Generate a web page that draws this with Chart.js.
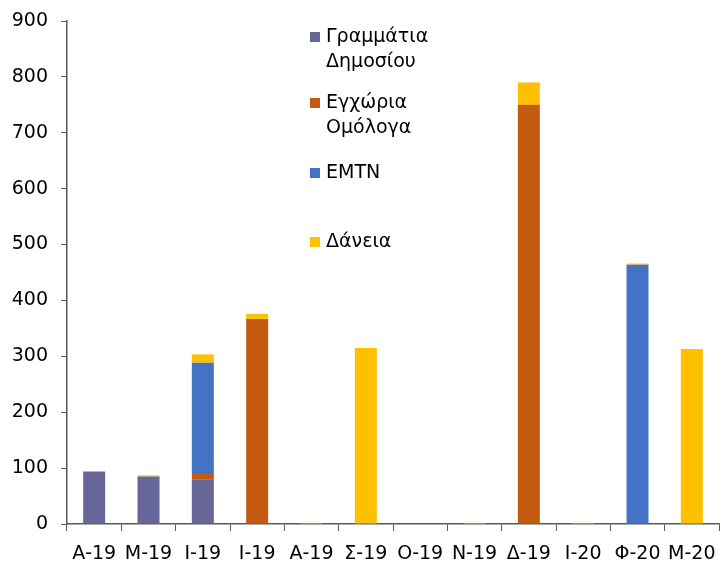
<!DOCTYPE html>
<html>
<head>
<meta charset="utf-8">
<script src="https://cdn.jsdelivr.net/npm/chart.js@4"></script>
<style>
html,body{margin:0;padding:0;background:#fff;}
#wrap{width:721px;height:563px;position:relative;}
</style>
</head>
<body>
<div id="wrap"><canvas id="c" width="721" height="563"></canvas></div>
<script>
const categories = ['Α-19','Μ-19','Ι-19','Ι-19','Α-19','Σ-19','Ο-19','Ν-19','Δ-19','Ι-20','Φ-20','Μ-20'];
const grammatia = [94, 85, 80, 0, 0, 0, 0, 0, 0, 0, 0, 0];
const egxoria   = [0, 0, 9.5, 367, 0, 0, 0, 0, 750, 0, 0, 0];
const emtn      = [0, 0, 199, 0, 0, 0, 0, 0, 0, 0, 464, 0];
const daneia    = [0, 2, 15, 9, 2, 315, 0, 2, 40, 2, 2, 313];
const yTicks = [0,100,200,300,400,500,600,700,800,900];
const legendLabels = [['Γραμμάτια','Δημοσίου'],['Εγχώρια','Ομόλογα'],['EMTN'],['Δάνεια']];
const colors = ['#666699','#C55A11','#4472C4','#FFC000'];

const FONT = 'Verdana, "DejaVu Sans", sans-serif';

const legendPlugin = {
  id: 'customLegend',
  afterDraw(chart) {
    const ctx = chart.ctx;
    const centers = [37, 103, 173, 242];
    ctx.save();
    ctx.font = '19px ' + FONT;
    ctx.textBaseline = 'middle';
    legendLabels.forEach((lines, i) => {
      const cy = centers[i];
      ctx.fillStyle = colors[i];
      ctx.fillRect(310, cy - 5, 10, 10);
      ctx.fillStyle = '#000';
      lines.forEach((t, j) => ctx.fillText(t, 326, cy + j * 25));
    });
    ctx.restore();
  }
};

const names = ['Γραμμάτια Δημοσίου','Εγχώρια Ομόλογα','EMTN','Δάνεια'];
const series = [grammatia, egxoria, emtn, daneia];

new Chart(document.getElementById('c'), {
  type: 'bar',
  data: {
    labels: categories,
    datasets: series.map((d, i) => ({
      label: names[i],
      data: d,
      backgroundColor: colors[i],
      borderWidth: 0,
      barPercentage: 0.405,
      categoryPercentage: 1.0
    }))
  },
  options: {
    responsive: false,
    animation: false,
    layout: { padding: { left: 0, right: 2, top: 21, bottom: 0 } },
    plugins: { legend: { display: false }, tooltip: { enabled: false } },
    scales: {
      x: {
        stacked: true,
        grid: { drawOnChartArea: false, drawTicks: true, tickLength: 7, color: '#595959', offset: true },
        border: { color: '#595959', width: 1.5 },
        ticks: { color: '#000', font: { family: FONT, size: 19 }, padding: 12, maxRotation: 0, autoSkip: false },
        afterFit: s => { s.height = 39; s.paddingLeft = 0; s.paddingRight = 0; }
      },
      y: {
        stacked: true,
        min: 0, max: 900,
        afterBuildTicks: s => { s.ticks = yTicks.map(v => ({ value: v })); },
        grid: { drawOnChartArea: false, drawTicks: true, tickLength: 6, color: '#595959' },
        border: { color: '#595959', width: 1.5 },
        ticks: { color: '#000', font: { family: FONT, size: 19 }, padding: 13 },
        afterFit: s => { s.width = 67; s.paddingTop = 0; s.paddingBottom = 0; }
      }
    }
  },
  plugins: [legendPlugin]
});
</script>
</body>
</html>
